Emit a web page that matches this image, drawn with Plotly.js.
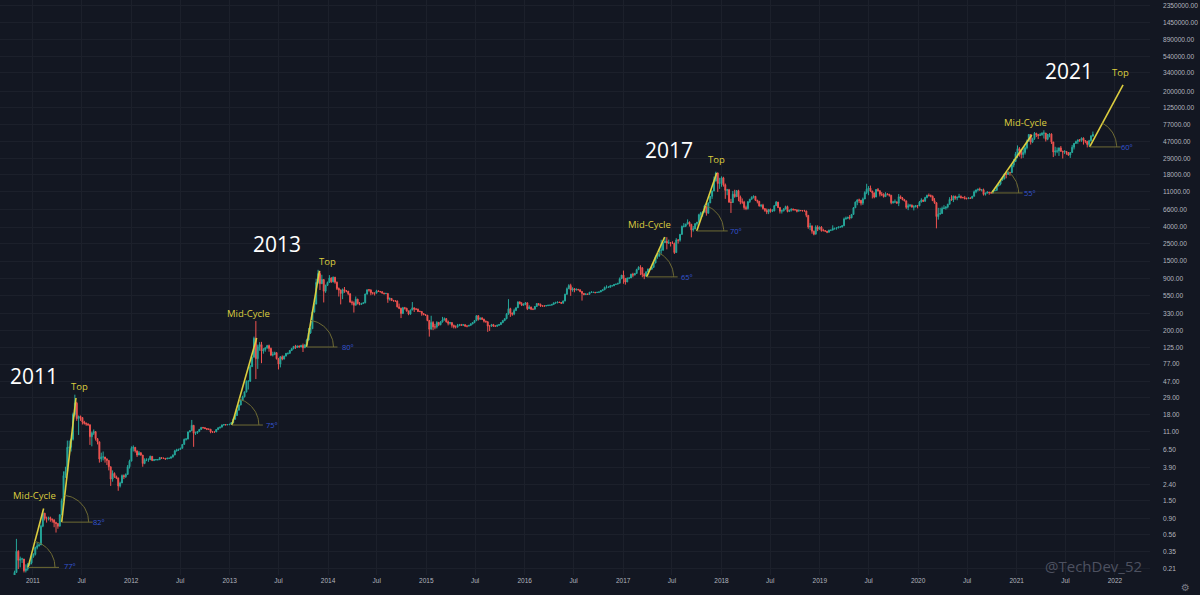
<!DOCTYPE html>
<html>
<head>
<meta charset="utf-8">
<script src="https://cdn.plot.ly/plotly-3.0.1.min.js"></script>
<style>
  html, body { margin: 0; padding: 0; background: #131722; }
  #chart { width: 1200px; height: 595px; }
</style>
</head>
<body>
<div id="chart"></div>
<script>
// ---------------- DATA (weekly BTC/USD candles) ----------------
// first weekly candle starts Monday 2010-10-04; each following value is the next week
const firstWeek = '2010-10-04';
const firstOpen = 0.061;

const close2010 = [0.062,0.10,0.10,0.19,0.35,0.27,0.28,0.28,0.20,0.21,0.24,0.25,0.30];
const high2010  = [0.065,0.105,0.11,0.20,0.50,0.36,0.30,0.29,0.26,0.24,0.25,0.27,0.30];
const low2010   = [0.06,0.062,0.09,0.10,0.19,0.21,0.22,0.25,0.19,0.19,0.20,0.23,0.24];

const close2011 = [0.32,0.39,0.41,0.42,0.72, 1.05,0.90,0.90,0.92, 0.88,0.86,0.80,0.78, 0.72,1.00,1.50,3.10, 3.50,7.00,7.00,8.80,18.0, 25.0,16.0,17.0,16.5, 14.5,14.0,13.7,13.4, 9.5,10.5,11.0,9.0,8.2, 5.0,5.3,5.3,5.0, 4.8,4.0,2.8,3.3,3.0, 2.9,2.3,2.5,3.1, 3.0,3.2,4.0,4.7];
const high2011  = [0.33,0.40,0.45,0.44,0.75, 1.10,1.05,0.95,0.95, 0.95,0.90,0.88,0.82, 0.78,1.02,1.60,3.50, 4.00,8.50,8.50,9.00,19.0, 31.9,26.0,17.5,17.5, 16.5,15.0,14.3,14.0, 13.5,11.0,11.7,11.0,9.0, 8.0,6.0,6.2,5.3, 5.1,4.4,4.0,3.6,3.4, 3.1,2.9,2.6,3.2, 3.2,3.3,4.2,4.9];
const low2011   = [0.29,0.31,0.37,0.40,0.43, 0.70,0.85,0.80,0.85, 0.82,0.80,0.70,0.60, 0.67,0.72,1.00,1.50, 2.90,3.50,6.00,6.20,8.5, 17.0,15.0,10.0,15.0, 13.5,13.5,13.0,13.0, 7.5,7.2,10.0,8.5,7.6, 4.5,4.6,4.8,4.5, 4.2,3.6,2.3,2.6,2.9, 2.8,2.0,2.2,2.5, 2.8,2.9,3.2,3.8];

const close2012 = [6.8,7.0,6.3,5.6,6.0, 5.6,4.4,4.9,4.9, 4.9,5.4,4.8,4.9, 4.9,4.9,5.2,5.1,5.1, 5.0,5.1,5.1,5.3, 5.6,6.3,6.5,6.6, 6.8,7.6,8.8,8.9,10.9, 11.3,13.2,10.5,10.6, 11.0,11.7,12.4,12.3, 12.0,11.8,11.8,10.9,10.9, 10.9,11.7,12.3,12.5, 13.3,13.5,13.4,13.5,13.6];
const high2012  = [7.2,7.4,7.0,6.4,6.3, 6.0,5.6,5.1,5.1, 5.1,5.5,5.4,5.0, 5.0,5.0,5.3,5.2,5.2, 5.1,5.2,5.2,5.4, 5.7,6.5,6.7,6.7, 6.9,7.7,9.0,9.1,11.0, 11.4,15.4,13.0,11.0, 11.2,11.9,12.6,12.6, 12.5,12.1,12.0,11.8,11.1, 11.0,11.8,12.4,12.7, 13.5,13.7,13.6,13.6,13.7];
const low2012   = [4.7,6.2,6.0,5.3,5.6, 5.5,4.0,4.3,4.7, 4.6,4.9,4.7,4.7, 4.8,4.8,4.9,5.0,5.0, 4.9,5.0,5.0,5.1, 5.2,5.6,6.2,6.3, 6.5,6.8,7.6,8.5,8.8, 10.8,11.3,7.1,10.0, 10.3,11.0,11.7,12.0, 11.9,11.5,11.5,10.5,10.6, 10.7,10.9,11.5,12.0, 12.5,13.1,13.1,13.2,13.2];

const close2013 = [14.2,15.7,17.5,20.4, 23.7,27.0,30.0,34.5, 46.9,47.0,71.5,94.0, 162,90,127,135,112, 117,123,131,121, 100,101,107,90, 77,95,89,97,105, 105,114,120,128, 124,130,126,132,123, 134,154,189,213, 345,435,808,1045, 780,880,630,745,810];
const high2013  = [14.5,16.0,18.0,20.9, 24.0,27.5,31.0,35.0, 48.0,48.3,74.9,95.0, 170,266,135,145,146, 122,125,134,135, 124,110,110,108, 92,97,99,98,106, 107,115,123,130, 134,131,131,134,139, 136,160,217,220, 350,440,900,1165, 1130,1010,880,760,830];
const low2013   = [13.5,14.2,15.6,17.5, 20.3,23.5,26.8,29.5, 34.0,37.0,46.0,71.0, 93,50,67,113,79, 104,110,120,110, 97,96,100,88, 66,70,86,88,96, 101,104,112,118, 119,123,124,125,109, 123,134,152,184, 212,340,430,780, 650,800,455,600,730];

const close2014 = [920,825,940,815, 680,650,590,660, 630,630,585,460,450, 420,500,440,430, 440,450,580,655, 650,600,595,595,635, 625,620,595,585, 590,500,510,480, 475,475,400,385,330, 390,385,355,325, 365,390,375,375, 350,350,330,320,315];
const high2014  = [1000,940,960,950, 830,700,660,680, 710,650,630,590,480, 470,540,505,460, 450,455,585,660, 670,665,610,605,655, 640,630,625,600, 600,590,525,515, 490,485,480,440,390, 400,400,390,360, 370,460,390,385, 380,360,355,335,325];
const low2014   = [800,800,810,780, 650,540,430,500, 600,610,560,450,420, 340,420,430,420, 425,435,445,570, 620,560,570,555,590, 615,605,590,575, 580,450,480,475, 470,465,395,375,290, 330,370,350,315, 320,365,345,365, 345,345,310,315,310];

const close2015 = [270,210,255,225, 225,255,240,260, 275,285,260,250,255, 235,225,225,235, 240,235,240,230, 230,235,245,255,270, 310,280,290,280, 265,260,230,230,240, 230,230,235,240, 255,270,285,325, 380,335,325,360,390, 460,440,420,435];
const high2015  = [300,275,310,265, 245,265,260,265, 300,295,290,270,260, 255,240,235,245, 245,245,242,240, 235,237,250,258,272, 315,315,295,298, 285,270,265,235,245, 245,235,240,242, 258,275,290,335, 500,390,340,380,395, 470,470,460,440];
const low2015   = [265,170,210,205, 210,215,230,235, 255,270,255,235,240, 220,215,215,220, 230,232,235,225, 222,228,233,242,250, 265,270,275,275, 255,255,195,200,225, 225,225,225,235, 240,250,265,280, 320,300,310,315,355, 390,430,410,415];

const close2016 = [450,380,400,375, 375,405,440,430,410, 410,410,415,420, 420,430,450,450, 460,455,445,475,575, 675,740,650,675, 650,665,655,625, 590,570,580,575,610, 610,610,605,610, 615,640,655,700,705, 705,730,735,765, 770,790,900,1000];
const high2016  = [460,455,420,400, 380,410,445,440,440, 420,420,420,425, 425,432,452,465, 465,460,460,480,585, 700,770,780,705, 690,680,670,660, 625,595,590,585,615, 630,615,610,615, 620,645,660,720,745, 725,755,745,770, 780,795,935,1000];
const low2016   = [420,365,380,365, 365,370,400,415,400, 405,405,410,410, 415,420,430,440, 445,450,435,440,470, 570,670,550,620, 610,645,645,610, 480,560,565,565,570, 600,600,590,600, 605,615,630,650,680, 690,700,725,730, 760,770,790,895];

const close2017 = [910,820,920,920,1025, 1000,1050,1170,1250, 1230,1020,970,1100, 1190,1180,1250,1420, 1700,1740,2050,2050,2550, 2650,2530,2540,2510, 2510,1915,2750,2740,3230, 4060,4090,4350,4590, 4320,3680,3790,4400, 4600,5700,6000,6150,7350, 5950,8000,9700,11300, 15000,19000,14000,14200];
const high2017  = [1140,915,930,930,1040, 1070,1060,1200,1290, 1330,1260,1060,1110, 1205,1210,1260,1430, 1750,1840,2100,2770,2580, 2980,2980,2780,2600, 2650,2540,2900,2800,3280, 4180,4480,4380,4980, 4690,4380,4120,4470, 4620,5850,6200,6250,7600, 7880,8100,9750,11400, 17100,19700,19200,16500];
const low2017   = [780,760,820,890,920, 940,995,1040,1160, 1000,940,890,960, 1090,1160,1180,1240, 1410,1600,1700,1850,2020, 2550,2100,2450,2280, 2450,1840,1900,2480,2620, 3220,3950,3990,4330, 4050,2970,3500,3760, 4170,4560,5100,5400,6120, 5550,5900,8000,9000, 11200,15000,11000,12000];

const close2018 = [16500,13500,11500,11700,8200, 8100,10300,9600,11400, 9500,8250,8200,7000, 6800,8300,8900,9400,9700, 8650,8400,7350,7500, 6800,6450,6150,6650, 6300,6350,7400,8200,7000, 6300,6400,6700,7200, 6250,6500,6700,6600, 6550,6300,6450,6400,6400, 6350,5600,4000,4100, 3550,3250,4000,3750,4000];
const high2018  = [17200,17000,14000,12000,12000, 9000,11300,11700,11600, 11700,9900,9100,8500, 7400,8400,9000,9700,9950, 9700,8750,8400,7700, 7800,6800,6800,6700, 6800,6700,7500,8450,8250, 7150,6600,6900,7400, 7400,6600,6800,6800, 6700,6650,6650,6500,6480, 6550,6400,5600,4500, 4200,3600,4200,4200,4050];
const low2018   = [12750,12800,9000,10000,8000, 6000,8000,9300,9500, 8400,7700,7800,6600, 6500,6600,8000,8800,9100, 8450,7900,7200,7050, 6600,6200,5800,5800, 6050,6150,6300,7350,6900, 5900,5900,6250,6650, 6100,6150,6250,6400, 6450,6100,6400,6350,6250, 6300,5300,3800,3650, 3300,3150,3250,3550,3700];

const close2019 = [3600,3600,3550,3450, 3650,3650,3850,3850, 3900,4000,4000,4150, 5050,5150,5300,5200,5750, 6950,8200,8700,8650, 7950,8950,10800,11900, 12250,11300,10700,9500,11800, 11350,10300,10150,9600, 10400,10300,10000,8050,8250, 8250,7950,9550,9200, 8800,8500,7050,7400, 7500,7100,7150,7400,7350];
const high2019  = [4100,3800,3650,3550, 3700,3700,4200,3900, 3950,4050,4100,4200, 5250,5400,5350,5650,5800, 7100,8350,8900,9050, 8650,9350,11200,13900, 13000,13200,11100,10700,11900, 12300,11500,10950,10600, 10900,10450,10350,10000,8500, 8850,8400,10350,9950, 9500,9000,8500,7850, 7750,7650,7500,7550,7550];
const low2019   = [3500,3550,3500,3350, 3400,3550,3650,3700, 3700,3850,3950,3950, 4100,4950,5050,4950,5150, 5650,6950,7500,8000, 7450,7550,8950,10300, 10000,11000,9100,9150,9450, 11100,9650,9750,9350, 9600,9950,9600,7700,7850, 7950,7850,7300,8950, 8650,8400,6750,6500, 7100,7000,6450,7050,6850];

const close2020 = [8200,8700,8380,9350, 9950,9900,9700,8550, 8050,5400,5800,5900,6800, 6900,7100,7700,8850, 8700,9700,9200,9450, 9650,9350,9300,9050,9050, 9250,9150,9700,11050, 11600,11900,11650,11700,10250, 10650,10950,10750,10650, 11350,11500,13050,13750, 15450,15950,18400,18200,19350, 19150,23800,26500,33000];
const high2020  = [8450,9150,8800,9550, 10150,10500,10200,9950, 9200,8200,6950,6950,7200, 7500,7250,7800,9450, 10000,9900,9850,9550, 10400,9950,9550,9800,9350, 9400,9300,9800,11450, 11800,12050,12450,11800,12100, 10700,11150,10950,10950, 11450,11700,13200,14000, 15950,16500,18800,19400,19900, 19400,24200,28400,34800];
const low2020   = [7350,8150,8250,8400, 9150,9600,9400,8450, 7800,3850,4950,5700,5900, 6750,6600,6850,7650, 8600,8200,8800,8650, 9250,9050,9200,8900,8900, 9050,9000,9150,9700, 10600,11150,11400,11150,9900, 9900,10500,10150,10450, 10550,11200,11400,12950, 13300,15150,15800,16300,18000, 17600,19000,22400,26000];

const close2021 = [38200,36000,32300,34300, 39200,47200,57500,46200, 51000,59400,57350,55800,57100, 59750,60000,50100,57800, 58200,46400,34700,35600,35800, 39100,35500,34700,35300, 34250,31800,34250,39850, 44600,47000,49300,48900,51750, 48300,47300,43150,48200, 54950,57500];
const high2021  = [41950,40000,37800,38600, 40900,49700,58300,58000, 52400,61800,60500,58500,60150, 61200,64900,57500,58400, 59600,59500,45800,40400,39500, 39500,41300,36000,36600, 35100,34600,34500,42600, 44800,48150,49400,50500,52900, 52950,48850,47300,49300, 56550,62600];
const low2021   = [29000,30400,28800,29300, 32300,37400,47000,43000, 44900,49300,53400,50400,56200, 55600,51300,47000,48750, 53000,43800,30000,31200,33600, 31000,34900,28800,32700, 32100,31100,29300,34050, 37400,43700,43950,46400,46550, 43000,44800,39600,40800, 46900,53900];

// cycle trend lines drawn on the chart: [start date, start price, end date, end price]
const cycleLineNames  = ['2011 mid','2011 top','2013 mid','2013 top','2017 mid','2017 top','2021 mid','2021 top'];
const cycleLineStart  = ['2010-12-14','2011-04-18','2013-01-09','2013-10-13','2017-03-29','2017-10-01','2020-09-30','2021-09-29'];
const cycleLineStartP = [0.22, 0.81, 13.3, 126, 950, 3570, 10670, 40200];
const cycleLineEnd    = ['2011-02-10','2011-06-10','2013-04-11','2013-11-30','2017-06-04','2017-12-14','2021-02-26','2022-01-31'];
const cycleLineEndP   = [1.20, 29, 163, 1130, 3000, 19000, 56800, 240000];
const angleLabels     = ['77°','82°','75°','80°','65°','70°','55°','60°'];

// axis tick labels
const yTickValues = [0.21,0.35,0.56,0.90,1.50,2.40,3.90,6.50,11,18,29,47,77,125,200,330,550,900,1500,2500,4000,6600,11000,18000,29000,47000,77000,125000,200000,340000,540000,890000,1450000,2350000];
const xTickDates  = ['2011-01-01','2011-07-01','2012-01-01','2012-07-01','2013-01-01','2013-07-01','2014-01-01','2014-07-01','2015-01-01','2015-07-01','2016-01-01','2016-07-01','2017-01-01','2017-07-01','2018-01-01','2018-07-01','2019-01-01','2019-07-01','2020-01-01','2020-07-01','2021-01-01','2021-07-01','2022-01-01'];
const xTickLabels = ['2011','Jul','2012','Jul','2013','Jul','2014','Jul','2015','Jul','2016','Jul','2017','Jul','2018','Jul','2019','Jul','2020','Jul','2021','Jul','2022'];

// ---------------- BUILD ----------------
const closes = [].concat(close2010,close2011,close2012,close2013,close2014,close2015,close2016,close2017,close2018,close2019,close2020,close2021);
const highsRaw = [].concat(high2010,high2011,high2012,high2013,high2014,high2015,high2016,high2017,high2018,high2019,high2020,high2021);
const lowsRaw  = [].concat(low2010,low2011,low2012,low2013,low2014,low2015,low2016,low2017,low2018,low2019,low2020,low2021);
const DAY = 86400000;
const t0 = Date.parse(firstWeek + 'T00:00:00Z');
const dates = closes.map((_, i) => new Date(t0 + i * 7 * DAY).toISOString().slice(0, 10));
const opens = closes.map((c, i) => i === 0 ? firstOpen : closes[i - 1]);
const highs = highsRaw.map((h, i) => Math.max(h, opens[i], closes[i]));
const lows  = lowsRaw.map((l, i) => Math.min(l, opens[i], closes[i]));

const W = 1200, H = 595;
const M = {l: 0, r: 50, t: 0, b: 20};
const plotW = W - M.l - M.r, plotH = H - M.t - M.b;
const xRange = ['2010-09-01', '2022-05-11'];
const yRange = [-0.753, 6.443];
const pxPerDay = plotW / ((Date.parse(xRange[1]) - Date.parse(xRange[0])) / DAY);
const pxPerDec = plotH / (yRange[1] - yRange[0]);

const YELLOW = '#dccd3f';
const ARC = '#6f6b34';
const BLUE = '#3356d4';

const traces = [{
  type: 'candlestick',
  x: dates, open: opens, high: highs, low: lows, close: closes,
  increasing: {line: {color: '#26a69a', width: 1}, fillcolor: '#26a69a'},
  decreasing: {line: {color: '#ef5350', width: 1}, fillcolor: '#ef5350'},
  whiskerwidth: 0,
  hoverinfo: 'skip',
  showlegend: false
}];

function shiftDate(d, px) {
  return new Date(Date.parse(d + 'T00:00:00Z') + px / pxPerDay * DAY).toISOString();
}
function shiftPrice(p, px) { return p * Math.pow(10, px / pxPerDec); }

const R = 27;
cycleLineStart.forEach((d0, k) => {
  const p0 = cycleLineStartP[k];
  // yellow trend line
  traces.push({type: 'scatter', mode: 'lines', x: [d0, cycleLineEnd[k]], y: [p0, cycleLineEndP[k]],
    line: {color: YELLOW, width: 1.6}, hoverinfo: 'skip', showlegend: false});
  // angle arc and base line
  const dxPx = (Date.parse(cycleLineEnd[k]) - Date.parse(d0)) / DAY * pxPerDay;
  const dyPx = Math.log10(cycleLineEndP[k] / p0) * pxPerDec;
  const ang = Math.atan2(dyPx, dxPx);
  const ax = [], ay = [];
  for (let s = 0; s <= 24; s++) {
    const th = ang * (1 - s / 24);
    ax.push(shiftDate(d0, R * Math.cos(th)));
    ay.push(shiftPrice(p0, R * Math.sin(th)));
  }
  traces.push({type: 'scatter', mode: 'lines', x: ax, y: ay,
    line: {color: ARC, width: 1}, hoverinfo: 'skip', showlegend: false});
  traces.push({type: 'scatter', mode: 'lines', x: [d0, shiftDate(d0, R + 4)], y: [p0, p0],
    line: {color: ARC, width: 1}, hoverinfo: 'skip', showlegend: false});
});

// text annotations (pixel positions converted to paper fractions)
const px = x => (x - M.l) / plotW;
const py = y => 1 - (y - M.t) / plotH;
const ann = [];
function label(text, x, y, size, color, xanchor, family) {
  ann.push({text, x: px(x), y: py(y), xref: 'paper', yref: 'paper', showarrow: false,
    xanchor: xanchor || 'center', yanchor: 'middle',
    font: {size, color, family: family || 'Open Sans, sans-serif'}});
}
label('2011', 34, 376, 21, '#ffffff');
label('2013', 277, 244, 21, '#ffffff');
label('2017', 669, 150, 21, '#ffffff');
label('2021', 1069, 71, 21, '#ffffff');
label('Mid-Cycle', 34, 495, 9.5, YELLOW);
label('Top', 79, 386, 9.5, YELLOW);
label('Mid-Cycle', 248, 313, 9.5, YELLOW);
label('Top', 327, 261, 9.5, YELLOW);
label('Mid-Cycle', 649, 225, 9.5, YELLOW);
label('Top', 716, 159, 9.5, YELLOW);
label('Mid-Cycle', 1025, 122, 9.5, YELLOW);
label('Top', 1120, 73, 9.5, YELLOW);
const angleLabelPos = [[62,566],[91,522],[264,425],[340,347],[679,277],[728,231],[1022,193],[1119,147]];
angleLabels.forEach((t, k) => label(t, angleLabelPos[k][0], angleLabelPos[k][1], 7.5, BLUE, 'left'));
label('@TechDev_52', 1093, 566, 15, '#4d5160');
label('⚙', 1185, 587, 10, '#787b86', 'center', 'DejaVu Sans');

const layout = {
  width: W, height: H,
  margin: M,
  paper_bgcolor: '#131722', plot_bgcolor: '#131722',
  showlegend: false,
  xaxis: {
    type: 'date', range: xRange, rangeslider: {visible: false},
    tickmode: 'array', tickvals: xTickDates, ticktext: xTickLabels,
    showgrid: true, gridcolor: '#1c202b', gridwidth: 1, zeroline: false,
    ticks: '', tickfont: {size: 6.5, color: '#b2b5be', family: 'Liberation Sans, Arial, sans-serif'},
    fixedrange: true, showline: false
  },
  yaxis: {
    type: 'log', range: yRange, side: 'right',
    tickmode: 'array', tickvals: yTickValues, ticktext: yTickValues.map(v => v.toFixed(2)),
    showgrid: true, gridcolor: '#1c202b', gridwidth: 1, zeroline: false,
    ticks: '', ticklabelstandoff: 12,
    tickfont: {size: 6.6, color: '#b2b5be', family: 'Liberation Sans, Arial, sans-serif'},
    fixedrange: true, showline: false
  },
  annotations: ann
};

Plotly.newPlot('chart', traces, layout, {displayModeBar: false, staticPlot: true});
</script>
</body>
</html>
